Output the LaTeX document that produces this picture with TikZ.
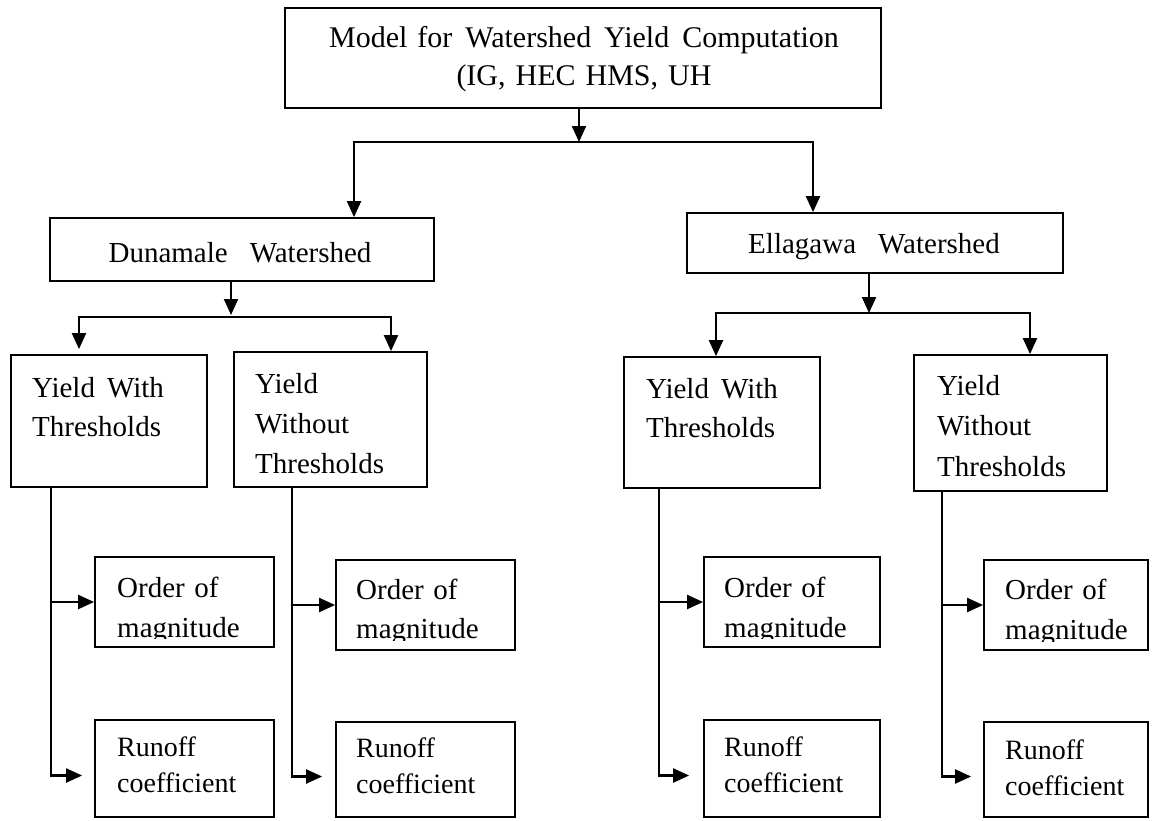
\documentclass[tikz,border=0pt]{standalone}
\usepackage{fontspec}
\setmainfont{Liberation Serif}
\usetikzlibrary{arrows.meta}
\begin{document}
\begin{tikzpicture}[x=1pt,y=-1pt,
  box/.style={draw, line width=1.8pt, inner sep=0pt},
  ln/.style={line width=2.2pt},
  arr/.style={line width=2.2pt, -{Triangle[length=16pt,width=14pt]}},
  txt/.style={inner sep=0pt, align=left, text width=#1, anchor=base west},
  big/.style={font=\fontsize{30}{38}\selectfont},
  mid/.style={font=\fontsize{29}{39}\selectfont},
  sml/.style={font=\fontsize{28}{36}\selectfont}]
\useasboundingbox (0,0) rectangle (1160,820);

% boxes
\node[box, minimum width=596pt, minimum height=100pt] (T) at (583,58) {};
\node[box, minimum width=384pt, minimum height=63pt] (D) at (242,249.5) {};
\node[box, minimum width=376pt, minimum height=60pt] (E) at (875,243) {};
\node[box, minimum width=196pt, minimum height=132pt] (YW1) at (109,421) {};
\node[box, minimum width=193pt, minimum height=135pt] (YWo1) at (330.5,419.5) {};
\node[box, minimum width=196pt, minimum height=131pt] (YW3) at (722,422.5) {};
\node[box, minimum width=193pt, minimum height=136pt] (YWo4) at (1010.5,423) {};
\node[box, minimum width=179pt, minimum height=90pt] (O1) at (184.5,602) {};
\node[box, minimum width=179pt, minimum height=90pt] (O2) at (425.5,605) {};
\node[box, minimum width=176pt, minimum height=90pt] (O3) at (792,602) {};
\node[box, minimum width=164pt, minimum height=90pt] (O4) at (1066,605) {};
\node[box, minimum width=179pt, minimum height=97pt] (R1) at (184.5,768.5) {};
\node[box, minimum width=179pt, minimum height=95pt] (R2) at (425.5,769.5) {};
\node[box, minimum width=176pt, minimum height=97pt] (R3) at (792,768.5) {};
\node[box, minimum width=164pt, minimum height=95pt] (R4) at (1066,769.5) {};

% texts
\node[big, inner sep=0pt, text width=620pt, align=center, anchor=base] (tT) at (584,47)
  {Model for\hspace{13pt}Watershed\hspace{13pt}Yield\hspace{13pt}Computation\\(IG, HEC HMS, UH};
\node[mid, inner sep=0pt, anchor=base] (tD) at (240,262) {Dunamale\hspace{22pt}Watershed};
\node[mid, inner sep=0pt, anchor=base] (tE) at (874,253) {Ellagawa\hspace{22pt}Watershed};
\node[mid, txt=180pt] (tYW1) at (32,397) {Yield\hspace{12pt}With\\Thresholds};
\node[mid, txt=180pt, font=\fontsize{29}{40}\selectfont] (tYWo1) at (255,393) {Yield\\Without\\Thresholds};
\node[mid, txt=180pt] (tYW3) at (646,398) {Yield\hspace{12pt}With\\Thresholds};
\node[mid, txt=180pt, font=\fontsize{29}{40.5}\selectfont] (tYWo4) at (937,395) {Yield\\Without\\Thresholds};
\begin{scope}
  \clip (O1.north west) rectangle ([yshift=9pt]O1.south east);
  \node[mid, txt=170pt, font=\fontsize{29}{40}\selectfont] (tO1) at (117,597) {Order of\\magnitude};
\end{scope}
\begin{scope}
  \clip (O2.north west) rectangle ([yshift=10pt]O2.south east);
  \node[mid, txt=170pt] (tO2) at (356,599) {Order of\\magnitude};
\end{scope}
\begin{scope}
  \clip (O3.north west) rectangle ([yshift=9pt]O3.south east);
  \node[mid, txt=170pt, font=\fontsize{29}{40}\selectfont] (tO3) at (724,597) {Order of\\magnitude};
\end{scope}
\begin{scope}
  \clip (O4.north west) rectangle ([yshift=9pt]O4.south east);
  \node[mid, txt=150pt, font=\fontsize{29}{40}\selectfont] (tO4) at (1005,599) {Order of\\magnitude};
\end{scope}
\node[sml, txt=170pt] (tR1) at (117,756) {Runoff\\coefficient};
\node[sml, txt=170pt] (tR2) at (356,757) {Runoff\\coefficient};
\node[sml, txt=170pt] (tR3) at (724,756) {Runoff\\coefficient};
\node[sml, txt=150pt] (tR4) at (1005,759) {Runoff\\coefficient};

% junctions and x positions
\coordinate (j0) at (579,142);
\coordinate (xD) at (354,0);
\coordinate (xE) at (813,0);
\coordinate (j1) at (231,317);
\coordinate (xA) at (79,0);
\coordinate (xB) at (391,0);
\coordinate (j2) at (869,313);
\coordinate (xC) at (716,0);
\coordinate (xF) at (1030,0);
\coordinate (c1) at (51,0);
\coordinate (c2) at (292,0);
\coordinate (c3) at (659,0);
\coordinate (c4) at (942,0);

% top level
\draw[arr] (T.south -| j0) -- (j0);
\draw[arr] (j0) -| (D.north -| xD);
\draw[arr] (j0) -| (E.north -| xE);
% Dunamale
\draw[arr] (D.south -| j1) -- ([yshift=2pt]j1);
\draw[arr] (j1) -| ([yshift=5pt]YW1.north -| xA);
\draw[arr] (j1) -| (YWo1.north -| xB);
% Ellagawa
\draw[arr] (E.south -| j2) -- (j2);
\draw[arr] (j2) -| (YW3.north -| xC);
\draw[arr] (j2) -| (YWo4.north -| xF);
% columns
\draw[arr] (YW1.south -| c1) |- ([shift={(-12pt,-7pt)}]R1.west);
\draw[arr] (O1.west -| c1) -- (O1.west);
\draw[arr] (YWo1.south -| c2) |- ([shift={(-13pt,-7pt)}]R2.west);
\draw[arr] (O2.west -| c2) -- (O2.west);
\draw[arr] (YW3.south -| c3) |- ([shift={(-14pt,-7pt)}]R3.west);
\draw[arr] (O3.west -| c3) -- (O3.west);
\draw[arr] (YWo4.south -| c4) |- ([shift={(-12pt,-7pt)}]R4.west);
\draw[arr] (O4.west -| c4) -- (O4.west);
\end{tikzpicture}
\end{document}
